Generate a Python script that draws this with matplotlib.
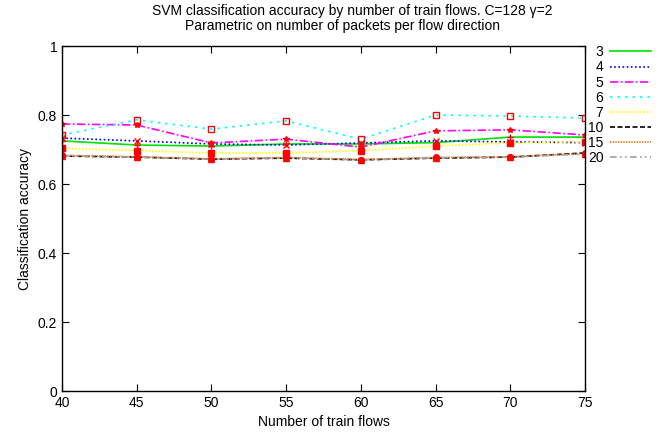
import numpy as np
import matplotlib.pyplot as plt

plt.rcParams['font.family'] = ['Liberation Sans', 'DejaVu Sans']

# train flows (x axis)
flows = [40, 45, 50, 55, 60, 65, 70, 75]

# accuracy per number of packets per flow direction
labels = ['3', '4', '5', '6', '7', '10', '15', '20']
acc_3 = [0.725, 0.713, 0.710, 0.716, 0.716, 0.720, 0.736, 0.736]
acc_4 = [0.733, 0.725, 0.716, 0.713, 0.719, 0.725, 0.722, 0.720]
acc_5 = [0.774, 0.771, 0.719, 0.730, 0.707, 0.754, 0.757, 0.742]
acc_6 = [0.742, 0.786, 0.759, 0.783, 0.730, 0.800, 0.797, 0.791]
acc_7 = [0.703, 0.697, 0.690, 0.690, 0.696, 0.710, 0.719, 0.722]
acc_10 = [0.681, 0.678, 0.672, 0.675, 0.670, 0.675, 0.678, 0.690]
acc_15 = [0.683, 0.679, 0.673, 0.677, 0.671, 0.677, 0.679, 0.688]
acc_20 = [0.682, 0.678, 0.672, 0.676, 0.670, 0.676, 0.678, 0.687]

series = [acc_3, acc_4, acc_5, acc_6, acc_7, acc_10, acc_15, acc_20]
colors = ['#00e000', '#0000ff', '#ff00ff', '#00ffff', '#ffff00', '#000000', '#ff6a00', '#a0a0a0']
styles = ['-', (0, (1, 1.5)), (0, (5, 1.5, 1, 1.5)), (0, (1.5, 3)),
          (0, (1, 1)), (0, (3, 1.5)), (0, (0.8, 0.8)), (0, (4, 2, 1, 2, 1, 2))]
markers = ['+', 'x', '*', 's', 's', 'o', 'o', '^']
filled = [True, True, True, False, True, False, True, False]

fig = plt.figure(figsize=(6.67, 4.4), dpi=100)
ax = fig.add_axes([62 / 667, 49 / 440, 523 / 667, 345 / 440])

for vals, lab, c, ls in zip(series, labels, colors, styles):
    ax.plot(flows, vals, color=c, linestyle=ls, linewidth=1.2, label=lab)

# red point markers on every series (drawn on top)
for vals, m, f in zip(series, markers, filled):
    ax.plot(flows, vals, linestyle='none', marker=m, markersize=4,
            color='red', markerfacecolor='red' if f else 'none',
            markeredgewidth=1.0)

ax.set_xlim(40, 75)
ax.set_ylim(0, 1)
ax.set_xticks(flows)
ax.set_yticks([0, 0.2, 0.4, 0.6, 0.8, 1])
ax.set_yticklabels(['0', '0.2', '0.4', '0.6', '0.8', '1'])
ax.tick_params(direction='in', top=True, right=True, length=5, labelsize=10)
for s in ax.spines.values():
    s.set_linewidth(1.0)

ax.set_xlabel('Number of train flows', fontsize=10)
ax.set_ylabel('Classification accuracy', fontsize=10)

fig.text(352 / 667, 1 - 11 / 440,
         'SVM classification accuracy by number of train flows. C=128 \u03b3=2',
         ha='center', va='center', fontsize=10)
fig.text(343 / 667, 1 - 26 / 440,
         'Parametric on number of packets per flow direction',
         ha='center', va='center', fontsize=10)

leg = ax.legend(loc='upper left', bbox_to_anchor=(1.0, 1.01), frameon=False,
                markerfirst=False, handlelength=2.9, labelspacing=0.08,
                fontsize=10, borderaxespad=0.0, borderpad=0.2,
                handletextpad=0.5)

fig.savefig('out.png', dpi=100)
